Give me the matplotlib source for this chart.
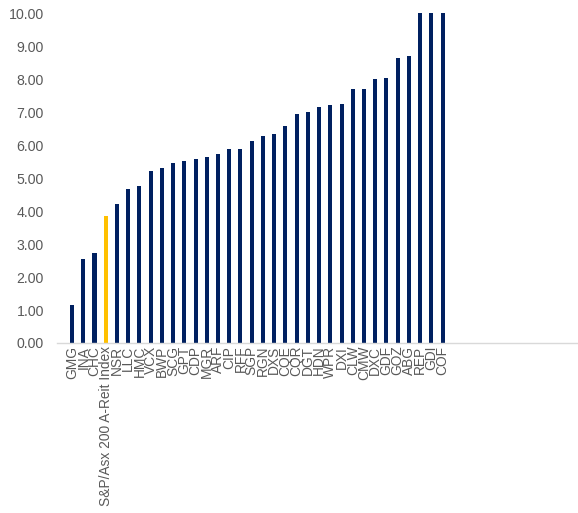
import matplotlib
matplotlib.use('Agg')
from matplotlib import pyplot as plt

plt.rcParams['font.family'] = ['Liberation Sans', 'DejaVu Sans']

# names sorted by value, index highlighted
names = ['GMG', 'INA', 'CHC', 'S&P/Asx 200 A-Reit Index', 'NSR', 'LLC', 'HMC',
         'VCX', 'BWP', 'SCG', 'GPT', 'CDP', 'MGR', 'ARF', 'CIP', 'RFF', 'SGP',
         'RGN', 'DXS', 'CQE', 'CQR', 'DGT', 'HDN', 'WPR', 'DXI', 'CLW', 'CMW',
         'DXC', 'GDF', 'GOZ', 'ABG', 'REP', 'GDI', 'COF']
values = [1.14, 2.54, 2.72, 3.85, 4.23, 4.66, 4.76, 5.21, 5.31, 5.47, 5.51,
          5.58, 5.64, 5.73, 5.89, 5.89, 6.12, 6.28, 6.34, 6.58, 6.94, 7.01,
          7.15, 7.22, 7.24, 7.69, 7.69, 8.00, 8.03, 8.66, 8.70, 10.6, 11.3, 12.1]
highlight = 'S&P/Asx 200 A-Reit Index'
yticks = [0, 1, 2, 3, 4, 5, 6, 7, 8, 9, 10]

navy = '#002060'
gold = '#FFC000'
grey = '#595959'

fig = plt.figure(figsize=(5.78, 5.13), dpi=100)
ax = fig.add_axes([0.0986, 0.3314, 0.9014, 0.6426])

colors = [gold if n == highlight else navy for n in names]
x = list(range(len(names)))
ax.bar(x, values, width=0.36, color=colors)

ax.set_ylim(0, 10)
ax.set_xlim(-1.34, 45.06)
ax.set_yticks(yticks)
ax.set_yticklabels([f'{v:.2f}' for v in yticks], fontsize=10.2, color=grey)
ax.set_xticks(x)
ax.set_xticklabels(names, rotation=90, fontsize=9.9, color=grey)
ax.tick_params(length=0)
ax.tick_params(axis='x', pad=2)
ax.tick_params(axis='y', pad=9.4)

for side in ['top', 'right', 'left']:
    ax.spines[side].set_visible(False)
ax.spines['bottom'].set_color('#d9d9d9')
ax.spines['bottom'].set_linewidth(1)

fig.savefig('out.png', dpi=100)
